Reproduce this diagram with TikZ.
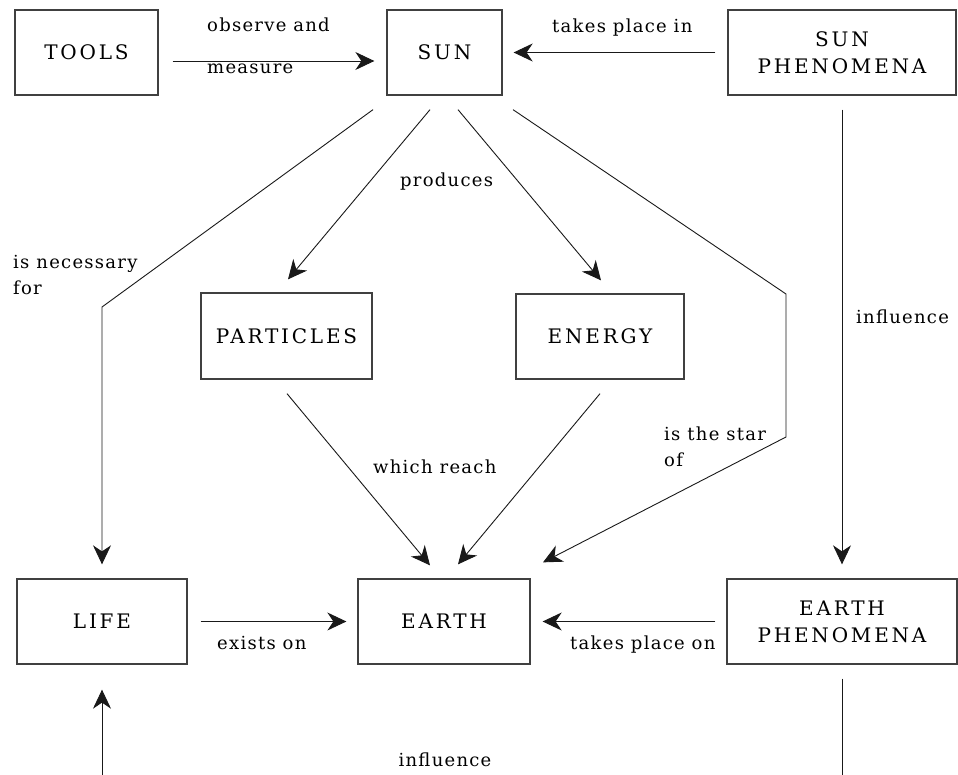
\documentclass[tikz,border=0pt]{standalone}
\usepackage{fontspec}
\setmainfont{DejaVu Serif}
\newfontfamily\capsfont[LetterSpace=14]{DejaVu Serif}
\newfontfamily\wordfont[LetterSpace=7]{DejaVu Serif}
\usetikzlibrary{arrows.meta}
\begin{document}
\begin{tikzpicture}[x=1pt,y=-1pt,
  concept/.style={draw=black!75, line width=1.3pt, minimum width=#1,
    minimum height=85pt, inner sep=0pt, align=center,
    font=\capsfont\fontsize{20}{27}\selectfont},
  link/.style={line width=0.9pt, draw=black!90},
  arrowlink/.style={link, -{Stealth[length=19pt,width=18pt,inset=6pt]}},
  word/.style={inner sep=0pt, anchor=west, align=left,
    font=\wordfont\fontsize{18}{26}\selectfont}]

% page
\fill[white] (0,0) rectangle (958,775);
\useasboundingbox (0,0) rectangle (958,775);

% concepts
\node[concept=143pt] (tools) at (86.5,52.5) {TOOLS};
\node[concept=115pt] (sun) at (444.5,52.5) {SUN};
\node[concept=228pt] (sunph) at (842,52.5) {SUN\\PHENOMENA};
\node[concept=171pt, minimum height=86pt] (particles) at (286.5,336) {PARTICLES};
\node[concept=168pt] (energy) at (600,336.5) {ENERGY};
\node[concept=170pt] (life) at (102,621.5) {LIFE};
\node[concept=172pt] (earth) at (444,621.5) {EARTH};
\node[concept=230pt] (earthph) at (842,621.5) {EARTH\\PHENOMENA};

% bends and loose ends
\coordinate (bendL) at (102,307);
\coordinate (bendR1) at (786,294);
\coordinate (bendR2) at (786,437);
\coordinate (edgeL) at (102,776);
\coordinate (edgeR) at (842,776);

% horizontal links
\draw[arrowlink, shorten <=14pt, shorten >=12pt] ([yshift=-8.5pt]tools.east) -- ([yshift=-8.5pt]sun.west);
\draw[arrowlink, shorten <=12pt, shorten >=11pt] (sunph.west) -- (sun.east);
\draw[arrowlink, shorten <=13pt, shorten >=11pt] (life.east) -- (earth.west);
\draw[arrowlink, shorten <=11pt, shorten >=12pt] (earthph.west) -- (earth.east);

% vertical links
\draw[arrowlink, shorten <=14pt, shorten >=14pt] (sunph.south) -- (earthph.north);
\draw[link, shorten <=14pt] (earthph.south) -- (edgeR);
\draw[arrowlink, shorten >=25pt] (edgeL) -- (life.south);

% links out of SUN
\draw[arrowlink, shorten >=14pt] ([shift={(-71.5,14)}]sun.south) -- (bendL) -- (life.north);
\draw[arrowlink] ([shift={(-14.5,14)}]sun.south) -- ([shift={(1.5,-13)}]particles.north);
\draw[arrowlink] ([shift={(13.5,14)}]sun.south) -- ([shift={(1,-13)}]energy.north);
\draw[arrowlink] ([shift={(68.5,14)}]sun.south) -- (bendR1) -- (bendR2) -- ([shift={(99,-16)}]earth.north);

% links into EARTH
\draw[arrowlink] ([shift={(0.5,14)}]particles.south) -- ([shift={(-14,-13)}]earth.north);
\draw[arrowlink] ([shift={(0,14)}]energy.south) -- ([shift={(14,-14)}]earth.north);

% linking phrases
\node[word] (lobs) at (207,25) {observe and};
\node[word] (lmeas) at (207,69) {measure};
\node[word] (ltakesin) at (552,28) {takes place in};
\node[word] (lnec) at (13,275.5) {is necessary\\for};
\node[word] (lprod) at (400,182) {produces};
\node[word] (linfl1) at (856,317) {influence};
\node[word] (lstar) at (664,446.5) {is the star\\of};
\node[word] (lreach) at (373,467) {which reach};
\node[word] (lexists) at (217,643) {exists on};
\node[word] (ltakeson) at (570,645) {takes place on};
\node[word, anchor=center] (linfl2) at (445,760) {influence};
\end{tikzpicture}
\end{document}
